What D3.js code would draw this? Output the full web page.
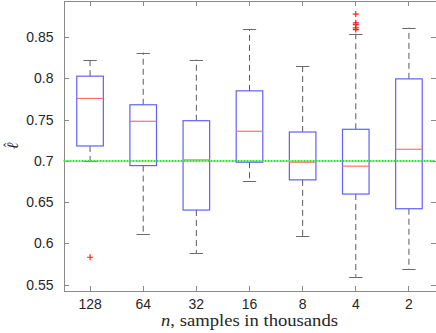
<!DOCTYPE html>
<meta charset="utf-8">
<style>
body { margin: 0; background: #fff; }
.tick text { font: 14px "Liberation Sans", Arial, sans-serif; fill: #262626; }
.axis path, .axis line { stroke: #8a8a8a; shape-rendering: crispEdges; }
</style>
<body>
<script src="https://cdn.jsdelivr.net/npm/d3@7"></script>
<script>

// n, samples in thousands
var categories = ["128", "64", "32", "16", "8", "4", "2"];
var whiskerHi = [0.8228, 0.8313, 0.8228, 0.8598, 0.8156, 0.8542, 0.8615];
var q3        = [0.8027, 0.7680, 0.7487, 0.7849, 0.7350, 0.7383, 0.7994];
var medians   = [0.7757, 0.7480, 0.7012, 0.7359, 0.6984, 0.6936, 0.7141];
var q1        = [0.7181, 0.6943, 0.6404, 0.6984, 0.6770, 0.6598, 0.6420];
var whiskerLo = [0.7004, 0.6110, 0.5885, 0.6755, 0.6086, 0.5595, 0.5687];
var outliers  = [[0.5832], [], [], [], [], [0.8779, 0.8674, 0.8652, 0.8612, 0.8592], []];
var target = 0.7;
var yTicks = [0.55, 0.6, 0.65, 0.7, 0.75, 0.8, 0.85];

var W = 436, H = 333;
var mLeft = 63.5, mRight = 435.5, mTop = 0.5, mBottom = 290.5;

var svg = d3.select("body").append("svg")
    .attr("width", W)
    .attr("height", H);

var x = d3.scaleBand()
    .domain(categories)
    .range([mLeft, mRight])
    .padding(0);

var y = d3.scaleLinear()
    .domain([0.5429, 0.8944])
    .range([mBottom, mTop]);

var bw = x.bandwidth();
var boxW = bw / 2;
var capW = boxW / 2;

function cx(c) { return x(c) + bw / 2; }

var data = categories.map(function(c, i) {
  return {c: c, hi: whiskerHi[i], q3: q3[i], med: medians[i], q1: q1[i], lo: whiskerLo[i], out: outliers[i]};
});

// axes (ticks point inwards, box all round)
svg.append("g")
    .attr("class", "axis")
    .attr("transform", "translate(0," + mBottom + ")")
    .call(d3.axisBottom(x).tickSizeInner(-5).tickSizeOuter(0).tickPadding(9));

svg.append("g")
    .attr("class", "axis")
    .attr("transform", "translate(0," + mTop + ")")
    .call(d3.axisTop(x).tickSizeInner(-5).tickSizeOuter(0).tickFormat(""));

svg.append("g")
    .attr("class", "axis")
    .attr("transform", "translate(" + mLeft + ",0)")
    .call(d3.axisLeft(y).tickValues(yTicks).tickSizeInner(-5).tickSizeOuter(0).tickPadding(10)
      .tickFormat(function(d) { return String(+d.toFixed(2)); }));

svg.append("g")
    .attr("class", "axis")
    .attr("transform", "translate(" + mRight + ",0)")
    .call(d3.axisRight(y).tickValues(yTicks).tickSizeInner(-5).tickSizeOuter(0).tickFormat(""));

var g = svg.selectAll(".box")
    .data(data)
  .enter().append("g")
    .attr("class", "box");

// whiskers
g.append("line")
    .attr("x1", function(d) { return cx(d.c); })
    .attr("x2", function(d) { return cx(d.c); })
    .attr("y1", function(d) { return y(d.q3); })
    .attr("y2", function(d) { return y(d.hi); })
    .attr("stroke", "#5a5a5a")
    .attr("stroke-dasharray", "6,4");

g.append("line")
    .attr("x1", function(d) { return cx(d.c); })
    .attr("x2", function(d) { return cx(d.c); })
    .attr("y1", function(d) { return y(d.q1); })
    .attr("y2", function(d) { return y(d.lo); })
    .attr("stroke", "#5a5a5a")
    .attr("stroke-dasharray", "6,4");

["hi", "lo"].forEach(function(k) {
  g.append("line")
      .attr("x1", function(d) { return cx(d.c) - capW / 2; })
      .attr("x2", function(d) { return cx(d.c) + capW / 2; })
      .attr("y1", function(d) { return Math.round(y(d[k])) + 0.5; })
      .attr("y2", function(d) { return Math.round(y(d[k])) + 0.5; })
      .attr("stroke", "#6a6a6a");
});

// boxes
g.append("rect")
    .attr("x", function(d) { return cx(d.c) - boxW / 2; })
    .attr("y", function(d) { return y(d.q3); })
    .attr("width", boxW)
    .attr("height", function(d) { return y(d.q1) - y(d.q3); })
    .attr("fill", "none")
    .attr("stroke", "#6060ff")
    .attr("stroke-width", 1.2);

// medians
g.append("line")
    .attr("x1", function(d) { return cx(d.c) - boxW / 2; })
    .attr("x2", function(d) { return cx(d.c) + boxW / 2; })
    .attr("y1", function(d) { return y(d.med); })
    .attr("y2", function(d) { return y(d.med); })
    .attr("stroke", "#ff7070")
    .attr("stroke-width", 1.2);

// outliers
g.selectAll(".out")
    .data(function(d) { return d.out.map(function(v) { return {c: d.c, v: v}; }); })
  .enter().append("path")
    .attr("class", "out")
    .attr("d", function(d) {
      var px = cx(d.c), py = y(d.v);
      return "M" + (px - 3) + "," + py + "H" + (px + 3) + "M" + px + "," + (py - 3) + "V" + (py + 3);
    })
    .attr("stroke", "#ff2020")
    .attr("stroke-width", 1.2);

// reference line
svg.append("line")
    .attr("x1", mLeft)
    .attr("x2", mRight)
    .attr("y1", y(target))
    .attr("y2", y(target))
    .attr("stroke", "#22ee22")
    .attr("stroke-width", 2)
    .attr("stroke-dasharray", "2,1");

// y label: \hat{\ell}
var yl = svg.append("g")
    .attr("transform", "translate(18,146) rotate(-90)")
    .style("fill", "#262626");
yl.append("text")
    .attr("text-anchor", "middle")
    .style("font", "italic 16px 'DejaVu Serif', serif")
    .text("\u2113");
yl.append("text")
    .attr("x", 1)
    .attr("y", -4)
    .attr("text-anchor", "middle")
    .style("font", "13px 'DejaVu Serif', serif")
    .text("\u02C6");

var xl = svg.append("text")
    .attr("x", (mLeft + mRight) / 2)
    .attr("y", 326)
    .attr("text-anchor", "middle")
    .attr("textLength", 177)
    .attr("lengthAdjust", "spacingAndGlyphs")
    .style("font", "17px 'Liberation Serif', serif")
    .style("fill", "#262626");
xl.append("tspan").style("font-style", "italic").text("n");
xl.append("tspan").text(", samples in thousands");

</script>
</body>
</html>
